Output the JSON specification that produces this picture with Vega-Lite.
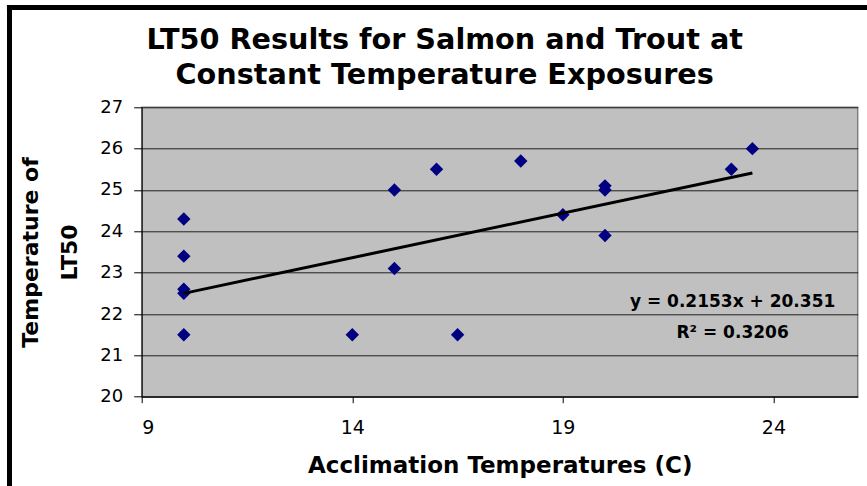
{
  "$schema": "https://vega.github.io/schema/vega-lite/v6.json",
  "width": 716,
  "height": 289.4,
  "autosize": {"type": "none"},
  "padding": {"left": 141.7, "top": 107.3, "right": 9.3, "bottom": 89.3},
  "background": "#FFFFFF",
  "config": {
    "font": "DejaVu Sans",
    "view": {"fill": "#C0C0C0", "stroke": "#808080", "strokeWidth": 1.5}
  },
  "title": {
    "text": ["LT50 Results for Salmon and Trout at", "Constant Temperature Exposures"],
    "font": "DejaVu Sans",
    "fontSize": 28.7,
    "fontWeight": "bold",
    "color": "#000000",
    "lineHeight": 35,
    "anchor": "middle",
    "frame": "group",
    "dx": -55,
    "offset": -87
  },
  "data": {
    "values": [
      {"acclimation": 10, "lt50": 24.3},
      {"acclimation": 10, "lt50": 23.4},
      {"acclimation": 10, "lt50": 22.6},
      {"acclimation": 10, "lt50": 22.5},
      {"acclimation": 10, "lt50": 21.5},
      {"acclimation": 14, "lt50": 21.5},
      {"acclimation": 15, "lt50": 25.0},
      {"acclimation": 15, "lt50": 23.1},
      {"acclimation": 16, "lt50": 25.5},
      {"acclimation": 16.5, "lt50": 21.5},
      {"acclimation": 18, "lt50": 25.7},
      {"acclimation": 19, "lt50": 24.4},
      {"acclimation": 20, "lt50": 25.1},
      {"acclimation": 20, "lt50": 25.0},
      {"acclimation": 20, "lt50": 23.9},
      {"acclimation": 23, "lt50": 25.5},
      {"acclimation": 23.5, "lt50": 26.0}
    ]
  },
  "layer": [
    {
      "mark": {"type": "point", "shape": "diamond", "filled": true, "color": "#000080", "size": 180, "opacity": 1},
      "encoding": {
        "x": {
          "field": "acclimation",
          "type": "quantitative",
          "scale": {"domain": [9, 26], "nice": false, "zero": false},
          "axis": {
            "title": "Acclimation Temperatures (C)",
            "values": [9, 14, 19, 24],
            "grid": false,
            "domainColor": "#000000",
            "domainWidth": 1,
            "tickColor": "#000000",
            "tickSize": 6,
            "labelFont": "DejaVu Sans",
            "labelFontSize": 19,
            "labelColor": "#000000",
            "labelPadding": 16,
            "titleFont": "DejaVu Sans",
            "titleFontSize": 23,
            "titleFontWeight": "bold",
            "titleColor": "#000000",
            "titlePadding": 17
          }
        },
        "y": {
          "field": "lt50",
          "type": "quantitative",
          "scale": {"domain": [20, 27], "nice": false, "zero": false},
          "axis": {
            "title": ["Temperature of", "LT50"],
            "values": [20, 21, 22, 23, 24, 25, 26, 27],
            "grid": true,
            "gridColor": "#202020",
            "gridWidth": 1,
            "domainColor": "#000000",
            "domainWidth": 1,
            "tickColor": "#000000",
            "tickSize": 8,
            "labelFont": "DejaVu Sans",
            "labelFontSize": 18,
            "labelColor": "#000000",
            "labelPadding": 11,
            "titleFont": "DejaVu Sans",
            "titleFontSize": 22,
            "titleFontWeight": "bold",
            "titleColor": "#000000",
            "titleLineHeight": 39,
            "titlePadding": 18
          }
        }
      }
    },
    {
      "data": {
        "values": [
          {"acclimation": 10, "lt50": 22.5},
          {"acclimation": 23.5, "lt50": 25.41}
        ]
      },
      "mark": {"type": "line", "color": "#000000", "strokeWidth": 3},
      "encoding": {
        "x": {"field": "acclimation", "type": "quantitative"},
        "y": {"field": "lt50", "type": "quantitative"}
      }
    },
    {
      "data": {"values": [{}]},
      "mark": {"type": "text", "align": "center", "baseline": "alphabetic", "font": "DejaVu Sans", "fontSize": 17, "fontWeight": "bold", "color": "#000000"},
      "encoding": {
        "x": {"datum": 23.03},
        "y": {"datum": 22.177},
        "text": {"value": "y = 0.2153x + 20.351"}
      }
    },
    {
      "data": {"values": [{}]},
      "mark": {"type": "text", "align": "center", "baseline": "alphabetic", "font": "DejaVu Sans", "fontSize": 17, "fontWeight": "bold", "color": "#000000"},
      "encoding": {
        "x": {"datum": 23.03},
        "y": {"datum": 21.42},
        "text": {"value": "R² = 0.3206"}
      }
    },
    {
      "data": {"values": [{}]},
      "mark": {"type": "rule", "color": "#000000", "strokeWidth": 5},
      "encoding": {
        "x": {"datum": 5.861},
        "y": {"datum": 29.474},
        "y2": {"datum": 17.74}
      }
    },
    {
      "data": {"values": [{}]},
      "mark": {"type": "rule", "color": "#000000", "strokeWidth": 5},
      "encoding": {
        "y": {"datum": 29.414},
        "x": {"datum": 5.8},
        "x2": {"datum": 26.3}
      }
    }
  ]
}
